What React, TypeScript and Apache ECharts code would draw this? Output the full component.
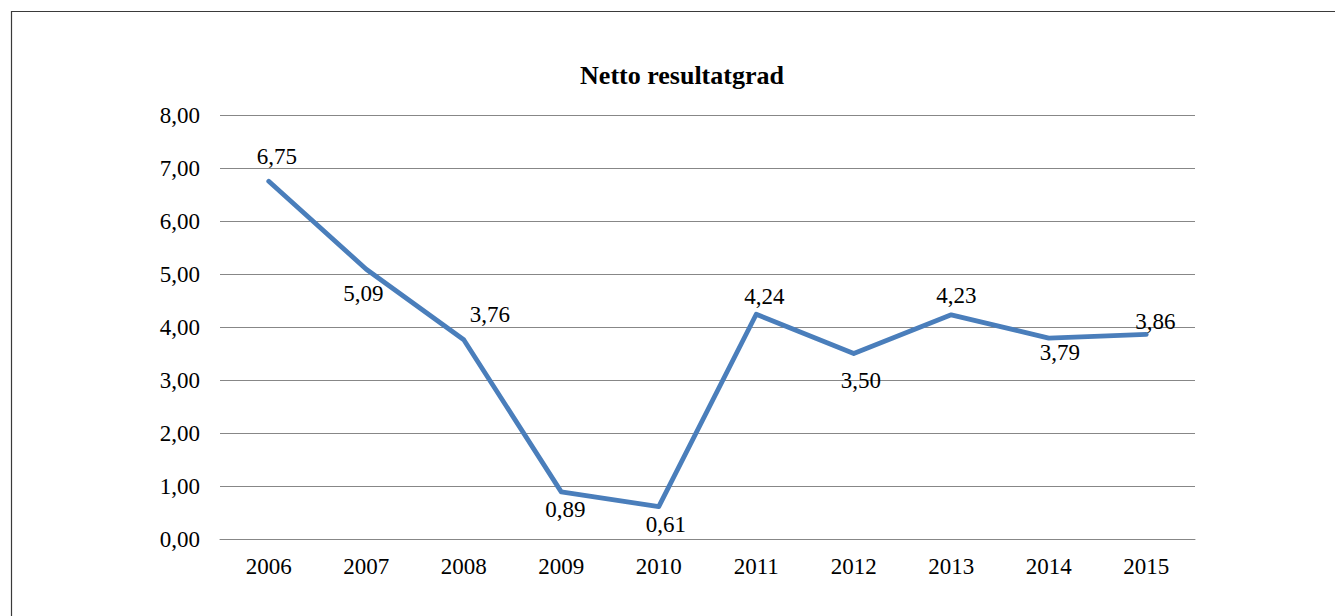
import React, { useEffect, useRef } from "react";
import * as echarts from "echarts";

const years = ["2006", "2007", "2008", "2009", "2010", "2011", "2012", "2013", "2014", "2015"];
const values = [6.75, 5.09, 3.76, 0.89, 0.61, 4.24, 3.5, 4.23, 3.79, 3.86];
const labelOffsets: [number, number][] = [
  [8, -25], [-3, 24], [26, -25], [4, 18], [7, 18], [8, -18], [7, 27], [5, -19], [11, 14], [9, -13],
];
const title = "Netto resultatgrad";

const fmt = (v: number) => v.toFixed(2).replace(".", ",");

export default function App() {
  const ref = useRef<HTMLDivElement>(null);
  useEffect(() => {
    document.body.style.margin = "0";
    const chart = echarts.init(ref.current!, null, { renderer: "svg" });
    const font = "Liberation Serif";
    chart.setOption({
      animation: false,
      backgroundColor: "#ffffff",
      textStyle: { fontFamily: font },
      title: {
        text: title,
        left: 677,
        top: 57,
        textAlign: "center",
        textStyle: { fontFamily: font, fontWeight: "bold", fontSize: 26, color: "#000" },
      },
      graphic: [
        {
          type: "rect",
          shape: { x: 11.5, y: 11.5, width: 1400, height: 700 },
          style: { fill: "none", stroke: "#3a3a3a", lineWidth: 1.2 },
          silent: true,
        },
      ],
      grid: { left: 220, right: 140, top: 115, bottom: 77, containLabel: false },
      xAxis: {
        type: "category",
        data: years,
        boundaryGap: true,
        axisLine: { show: true, lineStyle: { color: "#878787", width: 1 } },
        axisTick: { show: false },
        axisLabel: { fontFamily: font, fontSize: 23, color: "#000", margin: 16 },
      },
      yAxis: {
        type: "value",
        min: 0,
        max: 8,
        interval: 1,
        axisLine: { show: false },
        axisTick: { show: false },
        splitLine: { lineStyle: { color: "#878787", width: 1 } },
        axisLabel: {
          fontFamily: font,
          fontSize: 23,
          color: "#000",
          margin: 20,
          formatter: (v: number) => fmt(v),
        },
      },
      series: [
        {
          type: "line",
          data: values.map((v, i) => ({
            value: v,
            label: { offset: labelOffsets[i] },
          })),
          symbol: "circle",
          symbolSize: 1,
          showSymbol: true,
          itemStyle: { color: "#4a7ebb" },
          lineStyle: { color: "#4a7ebb", width: 4.8, cap: "round", join: "round" },
          label: {
            show: true,
            position: "inside",
            fontFamily: font,
            fontSize: 23,
            color: "#000",
            formatter: (p: any) => fmt(p.value),
          },
        },
      ],
    });
    return () => chart.dispose();
  }, []);
  return <div ref={ref} style={{ width: 1335, height: 616 }} />;
}
